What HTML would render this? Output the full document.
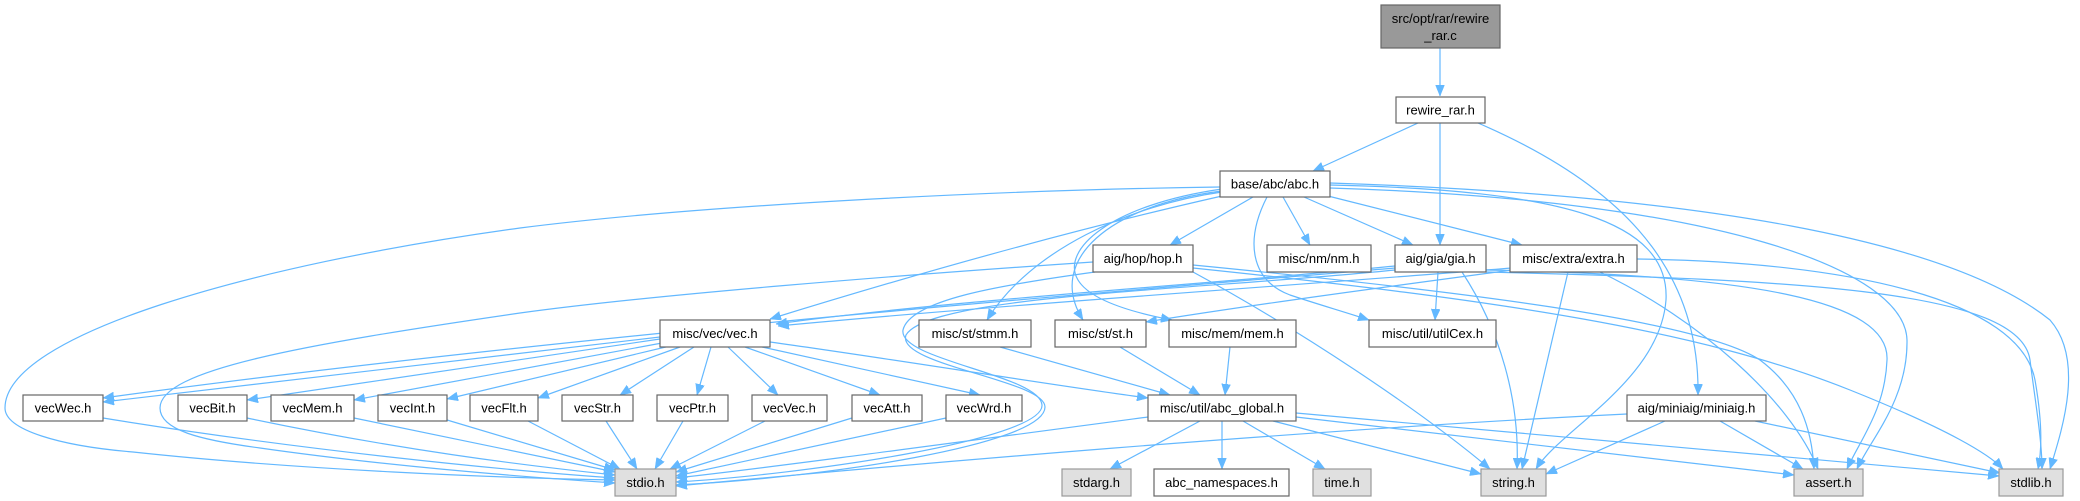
<!DOCTYPE html>
<html>
<head>
<meta charset="utf-8">
<style>
html,body{margin:0;padding:0;background:#fff;}
svg{display:block;}
text{font-family:"Liberation Sans",Arial,sans-serif;font-size:13px;fill:#000;}
.e{fill:none;stroke:#63b8ff;stroke-width:1.2;marker-end:url(#ah);}
.n{fill:#fff;stroke:#666;stroke-width:1.2;}
.g{fill:#e0e0e0;stroke:#999;stroke-width:1.2;}
.t{fill:#999;stroke:#666;stroke-width:1.2;}
</style>
</head>
<body>
<svg width="2080" height="501" viewBox="0 0 2080 501" xmlns="http://www.w3.org/2000/svg">
<defs>
<marker id="ah" markerUnits="userSpaceOnUse" markerWidth="11" markerHeight="9" refX="11" refY="4.5" orient="auto" viewBox="0 0 11 9">
<path d="M0,0 L11,4.5 L0,9 z" fill="#63b8ff" stroke="#63b8ff" stroke-width="0.5"/>
</marker>
</defs>

<!-- edges -->
<path class="e" d="M1440,48 L1440,96"/>
<path class="e" d="M1418,123 L1313,171"/>
<path class="e" d="M1440,123 L1440,245"/>
<path class="e" d="M1478,123 C1610,180 1700,260 1698,395"/>

<path class="e" d="M1253,197 L1170,245"/>
<path class="e" d="M1283,197 L1310,245"/>
<path class="e" d="M1304,197 L1413,245"/>
<path class="e" d="M1328,196 L1522,245"/>
<path class="e" d="M1222,196 C1050,235 880,285 770,319"/>
<path class="e" d="M1222,192 C1130,205 1030,250 987,320"/>
<path class="e" d="M1222,191 C1110,205 1045,260 1083,320"/>
<path class="e" d="M1222,189 C1110,205 1060,250 1078,280 C1090,300 1130,312 1172,320"/>
<path class="e" d="M1267,197 C1245,240 1250,280 1290,295 C1320,305 1345,312 1369,320"/>
<path class="e" d="M1220,187 C1000,190 700,205 520,228 C250,265 5,335 5,408 C5,430 60,446 133,452 C300,470 500,478 615,480"/>
<path class="e" d="M1330,185 C1560,190 1670,220 1666,300 C1660,380 1560,430 1536,469"/>
<path class="e" d="M1330,188 C1720,200 1905,270 1907,340 C1908,400 1870,440 1857,469"/>
<path class="e" d="M1330,183 C1700,195 1950,240 2050,320 C2085,360 2062,430 2050,469"/>

<path class="e" d="M1093,262 C900,275 650,295 520,313 C300,345 160,370 160,408 C160,430 200,440 260,448 C400,468 540,478 615,483"/>
<path class="e" d="M1395,268 C1200,285 600,330 103,398"/>
<path class="e" d="M1395,266 C1200,285 950,300 776,324"/>
<path class="e" d="M1512,268 C1300,285 1000,305 778,326"/>
<path class="e" d="M1095,272 C1000,285 910,300 903,330 C898,360 1040,375 1042,405 C1044,440 800,475 676,482"/>
<path class="e" d="M1395,270 C1200,290 930,295 906,335 C895,365 1045,380 1045,407 C1045,445 820,478 676,485"/>

<path class="e" d="M1512,270 C1400,285 1250,305 1146,322"/>
<path class="e" d="M1438,272 L1435,320"/>
<path class="e" d="M1462,272 C1500,330 1520,400 1517,469"/>
<path class="e" d="M1568,272 L1522,469"/>
<path class="e" d="M1600,272 C1700,320 1790,400 1818,469"/>
<path class="e" d="M1637,259 C1850,262 2020,300 2035,380 C2042,420 2042,450 2038,469"/>
<path class="e" d="M1486,270 C1750,275 1890,300 1887,360 C1885,410 1860,440 1847,469"/>
<path class="e" d="M1486,272 C1800,280 2020,290 2030,360 C2035,400 2042,440 2042,469"/>

<path class="e" d="M1193,272 C1300,330 1420,410 1490,469"/>
<path class="e" d="M1193,265 C1450,290 1700,320 1760,360 C1800,390 1812,430 1814,469"/>
<path class="e" d="M1193,268 C1500,300 1700,330 1850,390 C1950,430 1990,455 2003,469"/>

<path class="e" d="M660,337 L103,402"/>
<path class="e" d="M660,339 L247,400"/>
<path class="e" d="M662,343 L354,400"/>
<path class="e" d="M670,346 L447,399"/>
<path class="e" d="M680,347 L538,398"/>
<path class="e" d="M694,347 L620,395"/>
<path class="e" d="M711,347 L697,395"/>
<path class="e" d="M728,347 L778,395"/>
<path class="e" d="M745,347 L880,395"/>
<path class="e" d="M762,347 L980,395"/>
<path class="e" d="M770,342 C900,360 1050,385 1148,398"/>

<path class="e" d="M103,418 C300,450 500,470 615,478"/>
<path class="e" d="M247,418 C400,450 520,465 615,475"/>
<path class="e" d="M354,418 L615,472"/>
<path class="e" d="M447,420 L615,470"/>
<path class="e" d="M528,421 L620,469"/>
<path class="e" d="M606,421 L637,469"/>
<path class="e" d="M683,421 L655,469"/>
<path class="e" d="M765,421 L670,469"/>
<path class="e" d="M852,418 L676,472"/>
<path class="e" d="M946,418 L676,476"/>

<path class="e" d="M1000,347 L1170,395"/>
<path class="e" d="M1120,347 L1200,395"/>
<path class="e" d="M1230,347 L1225,395"/>
<path class="e" d="M1148,417 C900,450 750,470 676,478"/>
<path class="e" d="M1200,421 L1110,469"/>
<path class="e" d="M1222,421 L1222,469"/>
<path class="e" d="M1243,421 L1325,469"/>
<path class="e" d="M1273,421 L1481,474"/>
<path class="e" d="M1296,417 L1794,475"/>
<path class="e" d="M1296,413 L1999,476"/>

<path class="e" d="M1627,414 C1300,430 900,465 676,486"/>
<path class="e" d="M1665,421 L1546,474"/>
<path class="e" d="M1720,421 L1803,469"/>
<path class="e" d="M1755,421 L2000,473"/>

<!-- nodes -->
<rect class="t" x="1381" y="5" width="119" height="43"/>
<text x="1440.5" y="23" text-anchor="middle">src/opt/rar/rewire</text>
<text x="1440.5" y="40" text-anchor="middle">_rar.c</text>

<rect class="n" x="1396" y="97" width="89" height="26"/><text x="1440.5" y="114.5" text-anchor="middle">rewire_rar.h</text>
<rect class="n" x="1220" y="171" width="110" height="26"/><text x="1275" y="188.5" text-anchor="middle">base/abc/abc.h</text>

<rect class="n" x="1093" y="245" width="100" height="27"/><text x="1143" y="263" text-anchor="middle">aig/hop/hop.h</text>
<rect class="n" x="1267" y="245" width="104" height="27"/><text x="1319" y="263" text-anchor="middle">misc/nm/nm.h</text>
<rect class="n" x="1395" y="245" width="91" height="27"/><text x="1440.5" y="263" text-anchor="middle">aig/gia/gia.h</text>
<rect class="n" x="1510" y="245" width="127" height="27"/><text x="1573.5" y="263" text-anchor="middle">misc/extra/extra.h</text>

<rect class="n" x="660" y="320" width="110" height="27"/><text x="715" y="338" text-anchor="middle">misc/vec/vec.h</text>
<rect class="n" x="919" y="320" width="112" height="27"/><text x="975" y="338" text-anchor="middle">misc/st/stmm.h</text>
<rect class="n" x="1055" y="320" width="91" height="27"/><text x="1100.5" y="338" text-anchor="middle">misc/st/st.h</text>
<rect class="n" x="1169" y="320" width="127" height="27"/><text x="1232.5" y="338" text-anchor="middle">misc/mem/mem.h</text>
<rect class="n" x="1369" y="320" width="127" height="27"/><text x="1432.5" y="338" text-anchor="middle">misc/util/utilCex.h</text>

<rect class="n" x="23" y="395" width="80" height="26"/><text x="63" y="412.5" text-anchor="middle">vecWec.h</text>
<rect class="n" x="178" y="395" width="69" height="26"/><text x="212.5" y="412.5" text-anchor="middle">vecBit.h</text>
<rect class="n" x="271" y="395" width="83" height="26"/><text x="312.5" y="412.5" text-anchor="middle">vecMem.h</text>
<rect class="n" x="378" y="395" width="69" height="26"/><text x="412.5" y="412.5" text-anchor="middle">vecInt.h</text>
<rect class="n" x="470" y="395" width="68" height="26"/><text x="504" y="412.5" text-anchor="middle">vecFlt.h</text>
<rect class="n" x="562" y="395" width="71" height="26"/><text x="597.5" y="412.5" text-anchor="middle">vecStr.h</text>
<rect class="n" x="657" y="395" width="71" height="26"/><text x="692.5" y="412.5" text-anchor="middle">vecPtr.h</text>
<rect class="n" x="752" y="395" width="75" height="26"/><text x="789.5" y="412.5" text-anchor="middle">vecVec.h</text>
<rect class="n" x="852" y="395" width="70" height="26"/><text x="887" y="412.5" text-anchor="middle">vecAtt.h</text>
<rect class="n" x="946" y="395" width="76" height="26"/><text x="984" y="412.5" text-anchor="middle">vecWrd.h</text>
<rect class="n" x="1148" y="395" width="148" height="26"/><text x="1222" y="412.5" text-anchor="middle">misc/util/abc_global.h</text>
<rect class="n" x="1627" y="395" width="139" height="26"/><text x="1696.5" y="412.5" text-anchor="middle">aig/miniaig/miniaig.h</text>

<rect class="g" x="615" y="469" width="61" height="27"/><text x="645.5" y="487" text-anchor="middle">stdio.h</text>
<rect class="g" x="1062" y="469" width="69" height="27"/><text x="1096.5" y="487" text-anchor="middle">stdarg.h</text>
<rect class="n" x="1154" y="469" width="135" height="27"/><text x="1221.5" y="487" text-anchor="middle">abc_namespaces.h</text>
<rect class="g" x="1313" y="469" width="58" height="27"/><text x="1342" y="487" text-anchor="middle">time.h</text>
<rect class="g" x="1481" y="469" width="65" height="27"/><text x="1513.5" y="487" text-anchor="middle">string.h</text>
<rect class="g" x="1794" y="469" width="69" height="27"/><text x="1828.5" y="487" text-anchor="middle">assert.h</text>
<rect class="g" x="1999" y="469" width="64" height="27"/><text x="2031" y="487" text-anchor="middle">stdlib.h</text>
</svg>
</body>
</html>
